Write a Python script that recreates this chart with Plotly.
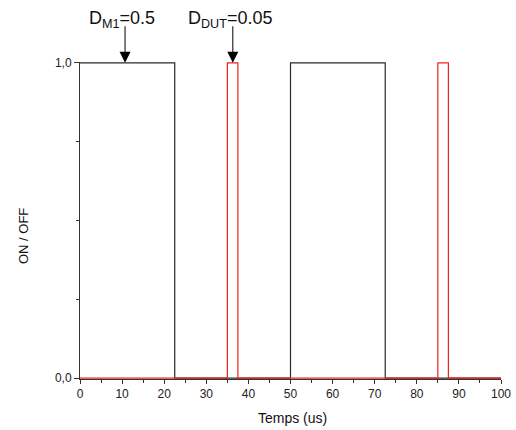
import plotly.graph_objects as go

# Switching signals (step waveforms): breakpoint times in microseconds and logic state
time_m1 = [0, 22.5, 50, 72.5, 100]
state_m1 = [1, 0, 1, 0, 0]

time_dut = [0, 35, 37.5, 85, 87.5, 100]
state_dut = [0, 1, 0, 1, 0, 0]

# Duty-cycle callouts: label and the time where its arrow points
callout_labels = ["D<sub>M1</sub>=0.5", "D<sub>DUT</sub>=0.05"]
callout_times = [10.7, 36.3]

x_ticks = list(range(0, 101, 10))
y_tickvals = [0, 1]
y_ticktext = ["0,0", "1,0"]

FONT = "Arial, 'Liberation Sans', sans-serif"
AXIS_COLOR = "#333333"
LABEL_SHIFT = -0.7  # labels sit slightly left of their arrows

fig = go.Figure()
fig.add_trace(go.Scatter(x=time_m1, y=state_m1, mode="lines", line_shape="hv",
                         line=dict(color="#2a2a2a", width=1.2), showlegend=False))
fig.add_trace(go.Scatter(x=time_dut, y=state_dut, mode="lines", line_shape="hv",
                         line=dict(color="#ee2020", width=1.2), showlegend=False))

annotations = []
for label, t in zip(callout_labels, callout_times):
    # arrow pointing down onto the high level
    annotations.append(dict(x=t, y=1, xref="x", yref="y", text="", showarrow=True,
                            ax=0, ay=-38, arrowhead=2, arrowsize=2.2, arrowwidth=1,
                            arrowcolor="#000000", standoff=0))
    annotations.append(dict(x=t + LABEL_SHIFT, y=1.133, xref="x", yref="paper", text=label,
                            showarrow=False, xanchor="center", yanchor="middle",
                            font=dict(family=FONT, size=18, color="#111111")))

annotations.append(dict(x=0.5036, y=-0.123, xref="paper", yref="paper", text="Temps (us)",
                        showarrow=False, xanchor="center", yanchor="middle",
                        font=dict(family=FONT, size=14, color="#111111")))
annotations.append(dict(x=-0.1354, y=0.451, xref="paper", yref="paper", text="ON / OFF",
                        showarrow=False, xanchor="center", yanchor="middle", textangle=-90,
                        font=dict(family=FONT, size=13, color="#111111")))

fig.update_layout(
    width=516, height=430,
    margin=dict(l=80, r=15, t=62, b=51),
    paper_bgcolor="white", plot_bgcolor="white",
    font=dict(family=FONT, size=12, color="#222222"),
    annotations=annotations,
    xaxis=dict(range=[0, 100], tickvals=x_ticks, ticks="outside", ticklen=4,
               tickwidth=1, tickcolor=AXIS_COLOR, showline=True, linecolor=AXIS_COLOR,
               linewidth=1, showgrid=False, zeroline=False, automargin=False,
               minor=dict(dtick=5, ticks="outside", ticklen=2.5, tickcolor=AXIS_COLOR,
                          showgrid=False),
               tickfont=dict(family=FONT, size=12, color="#222222")),
    yaxis=dict(range=[-0.0025, 1.0025], tickvals=y_tickvals, ticktext=y_ticktext,
               ticks="outside", ticklen=5, tickwidth=1, tickcolor=AXIS_COLOR,
               showline=True, linecolor=AXIS_COLOR, linewidth=1, showgrid=False,
               zeroline=False, automargin=False,
               minor=dict(tick0=0, dtick=0.25, ticks="outside", ticklen=3,
                          tickcolor=AXIS_COLOR, showgrid=False),
               tickfont=dict(family=FONT, size=12, color="#222222")),
)

fig.write_html("out.html")
